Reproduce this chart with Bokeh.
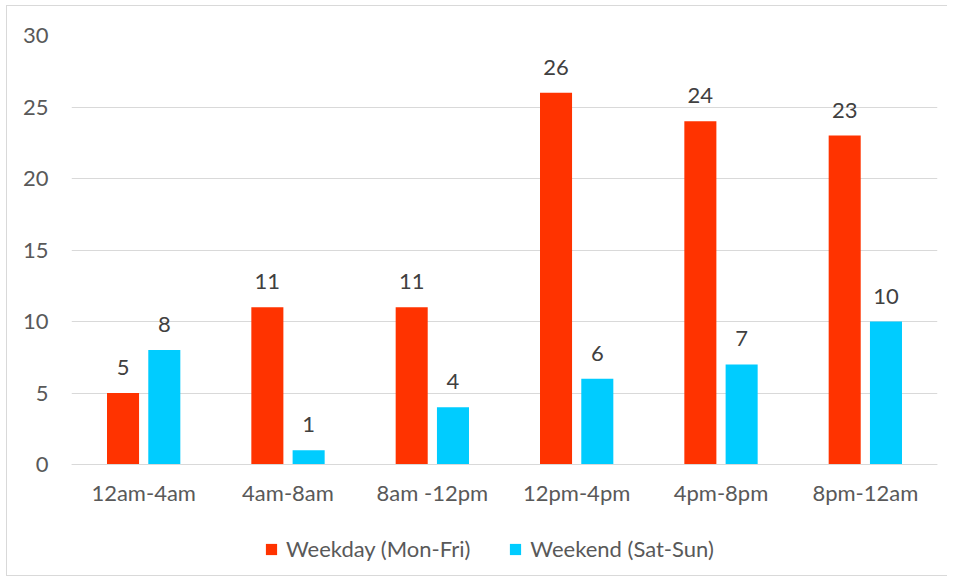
from bokeh.plotting import figure
from bokeh.models import ColumnDataSource, FactorRange, Legend, LegendItem, Range1d, FixedTicker
from bokeh.transform import dodge
from bokeh.core.properties import value
from bokeh.embed import file_html
from bokeh.resources import INLINE

categories = ["12am-4am", "4am-8am", "8am -12pm", "12pm-4pm", "4pm-8pm", "8pm-12am"]
weekday = [5, 11, 11, 26, 24, 23]
weekend = [8, 1, 4, 6, 7, 10]
y_ticks = [0, 5, 10, 15, 20, 25, 30]
series_names = ["Weekday (Mon-Fri)", "Weekend (Sat-Sun)"]
colors = ["#FF3300", "#00CCFF"]

FONT = "Lato"
FS = "22px"

src = ColumnDataSource(dict(
    cat=categories, weekday=weekday, weekend=weekend,
    wd_lbl=[str(v) for v in weekday], we_lbl=[str(v) for v in weekend],
))

# frame extends below zero so the legend can sit inside it; x axis pinned at y=0
p = figure(x_range=FactorRange(*categories, range_padding=0), y_range=Range1d(-7.9, 30),
           width=941, height=571, output_backend="svg", toolbar_location=None,
           min_border_left=64, min_border_right=11, min_border_top=29, min_border_bottom=0)
p.styles = {"border": "1px solid #d9d9d9", "border-right": "none", "box-sizing": "border-box",
            "margin-left": "6px", "margin-top": "5px"}
p.outline_line_color = None

r1 = p.vbar(x=dodge("cat", -0.143, range=p.x_range), top="weekday", width=0.222, source=src,
            fill_color=colors[0], line_color=None)
r2 = p.vbar(x=dodge("cat", 0.143, range=p.x_range), top="weekend", width=0.222, source=src,
            fill_color=colors[1], line_color=None)

p.text(x=dodge("cat", -0.143, range=p.x_range), y="weekday", text="wd_lbl", source=src,
       text_align="center", text_baseline="bottom", y_offset=-18,
       text_font=value(FONT), text_font_size=value(FS), text_color="#404040")
p.text(x=dodge("cat", 0.143, range=p.x_range), y="weekend", text="we_lbl", source=src,
       text_align="center", text_baseline="bottom", y_offset=-18,
       text_font=value(FONT), text_font_size=value(FS), text_color="#404040")

p.yaxis.ticker = FixedTicker(ticks=y_ticks)
p.yaxis.axis_line_color = None
p.yaxis.major_tick_line_color = None
p.yaxis.minor_tick_line_color = None
p.yaxis.major_label_standoff = 17
p.yaxis.major_label_text_font = FONT
p.yaxis.major_label_text_font_size = FS
p.yaxis.major_label_text_color = "#595959"

p.xaxis.fixed_location = 0
p.xaxis.axis_line_color = "#d9d9d9"
p.xaxis.major_tick_line_color = None
p.xaxis.minor_tick_line_color = None
p.xaxis.major_label_standoff = 8
p.xaxis.major_label_text_font = FONT
p.xaxis.major_label_text_font_size = FS
p.xaxis.major_label_text_color = "#595959"

p.xgrid.grid_line_color = None
p.ygrid.grid_line_color = "#d9d9d9"

legend = Legend(items=[LegendItem(label=series_names[0], renderers=[r1]),
                       LegendItem(label=series_names[1], renderers=[r2])],
                orientation="horizontal", location=(193, 15),
                label_text_font=FONT, label_text_font_size=FS, label_text_color="#595959",
                glyph_width=14, glyph_height=14, label_standoff=8, spacing=38,
                border_line_color=None, background_fill_alpha=0, margin=0, padding=0)
p.add_layout(legend, "center")

open("out.html", "w").write(file_html(p, INLINE))
